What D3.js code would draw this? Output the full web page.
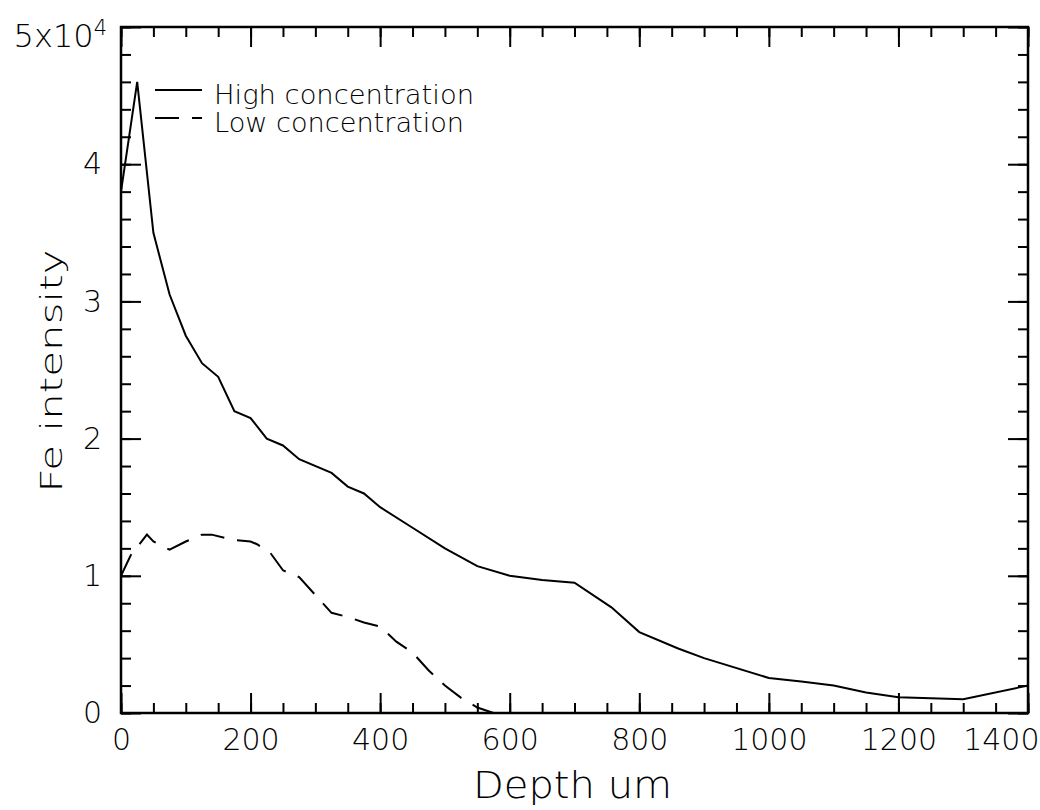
<!DOCTYPE html>
<html>
<head>
<meta charset="utf-8">
<script src="https://cdn.jsdelivr.net/npm/d3@7"></script>
<style>
  body { margin: 0; background: #fff; }
  text { font-family: "DejaVu Sans", sans-serif; font-weight: 200; fill: #000; }
</style>
</head>
<body>
<div id="chart"></div>
<script>
// depth in um, Fe intensity (counts)
const highDepth = [0, 25, 50, 75, 100, 125, 150, 175, 200, 225, 250, 275, 325, 350, 375, 400, 450, 500, 550, 600, 650, 700, 757, 800, 860, 900, 1000, 1050, 1100, 1150, 1200, 1300, 1400]
const highVal = [38000, 46000, 35000, 30500, 27500, 25500, 24500, 22000, 21500, 20000, 19500, 18500, 17500, 16500, 16000, 15000, 13500, 12000, 10700, 10000, 9700, 9500, 7700, 5900, 4700, 4000, 2550, 2300, 2000, 1500, 1150, 1000, 2000]
const lowDepth = [0, 15, 40, 50, 75, 100, 125, 140, 175, 200, 210, 230, 250, 275, 300, 325, 350, 375, 400, 425, 450, 475, 500, 525, 550, 575]
const lowVal = [10000, 11500, 13000, 12500, 11900, 12500, 13000, 13000, 12600, 12500, 12300, 11700, 10400, 9900, 8600, 7300, 7000, 6600, 6300, 5200, 4400, 3100, 2000, 1100, 400, 0]
const xTicks = [0, 200, 400, 600, 800, 1000, 1200, 1400]
const yTicks = [0, 10000, 20000, 30000, 40000, 50000]
const legendNames = ["High concentration", "Low concentration"]

const width = 1040, height = 810
const mLeft = 121, mRight = 1028, mTop = 27, mBottom = 713
const DASH = "24,13"

let svg = d3.select("#chart").append("svg").attr("width", width).attr("height", height)

let x = d3.scaleLinear().domain([0, 1400]).range([mLeft, mRight])
let y = d3.scaleLinear().domain([0, 50000]).range([mBottom, mTop])

let xMinor = d3.range(0, 1401, 50)
let yMinor = d3.range(0, 50001, 2000)

function styleAxis(g) {
    g.select(".domain").remove()
    g.selectAll(".tick line").attr("stroke", "#000").attr("stroke-width", 2)
}

// minor ticks on all four sides
svg.append("g").attr("transform", `translate(0,${mBottom})`)
    .call(d3.axisBottom(x).tickValues(xMinor).tickSizeInner(-10).tickSizeOuter(0).tickFormat(""))
    .call(styleAxis)
svg.append("g").attr("transform", `translate(0,${mTop})`)
    .call(d3.axisTop(x).tickValues(xMinor).tickSizeInner(-10).tickSizeOuter(0).tickFormat(""))
    .call(styleAxis)
svg.append("g").attr("transform", `translate(${mLeft},0)`)
    .call(d3.axisLeft(y).tickValues(yMinor).tickSizeInner(-10).tickSizeOuter(0).tickFormat(""))
    .call(styleAxis)
svg.append("g").attr("transform", `translate(${mRight},0)`)
    .call(d3.axisRight(y).tickValues(yMinor).tickSizeInner(-10).tickSizeOuter(0).tickFormat(""))
    .call(styleAxis)

// major ticks
let gx = svg.append("g").attr("transform", `translate(0,${mBottom})`)
    .call(d3.axisBottom(x).tickValues(xTicks).tickSizeInner(-20).tickSizeOuter(0).tickPadding(16)
        .tickFormat(d3.format("d")))
    .call(styleAxis)
gx.selectAll("text").attr("font-size", 30).attr("font-family", null).attr("fill", "#000")
// the last label is pushed left to fit the page
gx.selectAll(".tick").filter(d => d === 1400).select("text").attr("text-anchor", "end").attr("x", 11)

svg.append("g").attr("transform", `translate(0,${mTop})`)
    .call(d3.axisTop(x).tickValues(xTicks).tickSizeInner(-20).tickSizeOuter(0).tickFormat(""))
    .call(styleAxis)

let gy = svg.append("g").attr("transform", `translate(${mLeft},0)`)
    .call(d3.axisLeft(y).tickValues(yTicks).tickSizeInner(-20).tickSizeOuter(0).tickPadding(19)
        .tickFormat(d => d === 50000 ? "5x10" : d / 10000))
    .call(styleAxis)
gy.selectAll("text").attr("font-size", 30).attr("font-family", null).attr("fill", "#000")
let topLabel = gy.selectAll(".tick").filter(d => d === 50000).select("text")
topLabel.attr("x", -14).attr("dy", "0.62em").attr("font-size", 32)
topLabel.append("tspan").attr("font-size", 21).attr("dy", -12).text("4")

svg.append("g").attr("transform", `translate(${mRight},0)`)
    .call(d3.axisRight(y).tickValues(yTicks).tickSizeInner(-20).tickSizeOuter(0).tickFormat(""))
    .call(styleAxis)

// frame
svg.append("rect").attr("x", mLeft).attr("y", mTop).attr("width", mRight - mLeft).attr("height", mBottom - mTop)
    .attr("fill", "none").attr("stroke", "#000").attr("stroke-width", 2.5)

// curves
let line = d3.line().x(d => x(d[0])).y(d => y(d[1]))
let high = d3.zip(highDepth, highVal)
let low = d3.zip(lowDepth, lowVal)

svg.append("path").datum(high).attr("d", line)
    .attr("fill", "none").attr("stroke", "#000").attr("stroke-width", 2)
svg.append("path").datum(low).attr("d", line)
    .attr("fill", "none").attr("stroke", "#000").attr("stroke-width", 2).attr("stroke-dasharray", DASH)

// legend
let leg = svg.append("g")
leg.append("line").attr("x1", 155).attr("x2", 202).attr("y1", 90).attr("y2", 90)
    .attr("stroke", "#000").attr("stroke-width", 2)
leg.append("line").attr("x1", 155).attr("x2", 202).attr("y1", 118).attr("y2", 118)
    .attr("stroke", "#000").attr("stroke-width", 2).attr("stroke-dasharray", DASH)
leg.selectAll("text").data(legendNames).join("text")
    .attr("x", 214).attr("y", (d, i) => 104 + i * 28)
    .attr("font-size", 26)
    .attr("textLength", (d, i) => i === 0 ? 260 : 250)
    .attr("lengthAdjust", "spacingAndGlyphs")
    .text(d => d)

// axis titles
svg.append("text").attr("x", 473).attr("y", 798)
    .attr("font-size", 38).attr("textLength", 199).attr("lengthAdjust", "spacingAndGlyphs")
    .text("Depth um")
svg.append("text").attr("transform", "translate(62,371) rotate(-90)")
    .attr("text-anchor", "middle").attr("font-size", 30)
    .attr("textLength", 243).attr("lengthAdjust", "spacingAndGlyphs")
    .text("Fe intensity")
</script>
</body>
</html>
